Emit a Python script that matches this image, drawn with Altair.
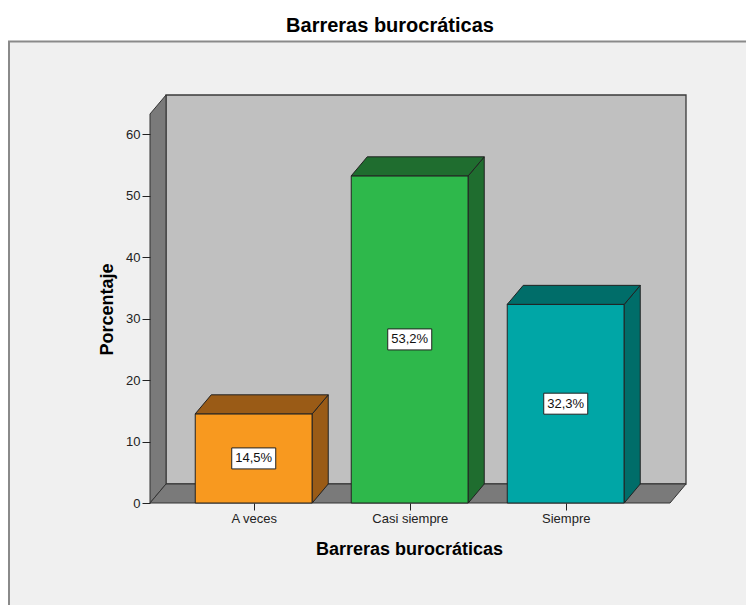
import json
import altair as alt
import pandas as pd

# ---------------- data ----------------
categories = ["A veces", "Casi siempre", "Siempre"]
values = [14.5, 53.2, 32.3]
value_labels = ["14,5%", "53,2%", "32,3%"]
front_colors = ["#F8991F", "#2EB84B", "#00A6A6"]
shade_colors = ["#9A5B16", "#1F6D2F", "#006D69"]
y_ticks = [0, 10, 20, 30, 40, 50, 60]

# ---------------- 3D geometry in data units ----------------
PX_X = 156.0          # pixels per category step
PX_Y = 6.15           # pixels per percentage point
DEPTH_X = 16 / PX_X   # depth offset of the 3D effect
DEPTH_Y = 19 / PX_Y
FIRST_CENTER = 0.665
HALF_BAR = 0.375
FLOOR_END = 520 / PX_X
X_MAX = FLOOR_END + DEPTH_X
Y_MAX = 408 / PX_Y
WALL_TOP = Y_MAX - DEPTH_Y

centers = [FIRST_CENTER + i for i in range(len(categories))]

xs = alt.Scale(domain=[0, X_MAX], nice=False, zero=False)
ys = alt.Scale(domain=[0, Y_MAX], nice=False, zero=False)

label_expr = json.dumps(categories) + "[floor(datum.value)]"
x_axis = alt.Axis(values=centers, labelExpr=label_expr, title="Barreras burocráticas",
                  grid=False, domain=False, tickSize=7, tickColor="#222", labelPadding=2,
                  labelFontSize=13, labelColor="#222", labelFont="Liberation Sans",
                  titleFontSize=18, titleFont="Liberation Sans", titleFontWeight="bold",
                  titleColor="#000", titlePadding=15, titleX=259, labelOverlap=False,
                  labelFlush=False, zindex=1)
y_axis = alt.Axis(values=y_ticks, title="Porcentaje", format="d", grid=False, domain=False,
                  tickSize=8, tickColor="#222", labelPadding=2, labelFontSize=13,
                  labelColor="#222", labelFont="Liberation Sans", titleFontSize=18,
                  titleFont="Liberation Sans", titleFontWeight="bold", titleColor="#000",
                  titlePadding=9, titleY=214, zindex=1)


def X(field):
    return alt.X(field, scale=xs, axis=x_axis, title="Barreras burocráticas")


def Y(field):
    return alt.Y(field, scale=ys, axis=y_axis, title="Porcentaje")


# outer frame (decoration)
frame_df = pd.DataFrame({"x": [-141 / PX_X], "x2": [700 / PX_X], "y": [-120 / PX_Y],
                         "y2": [461.5 / PX_Y]})
frame = alt.Chart(frame_df).mark_rect(fill="#F0F0F0", stroke="#8A8A8A", strokeWidth=2).encode(
    x=X("x:Q"), x2="x2", y=Y("y:Q"), y2="y2")

# back wall
back_df = pd.DataFrame({"x": [DEPTH_X], "x2": [X_MAX], "y": [DEPTH_Y], "y2": [Y_MAX]})
back = alt.Chart(back_df).mark_rect(fill="#C0C0C0", stroke="#3A3A3A", strokeWidth=1.3).encode(
    x=X("x:Q"), x2="x2", y=Y("y:Q"), y2="y2")

# left wall
left_df = pd.DataFrame({"x": [0, DEPTH_X], "lo": [0, DEPTH_Y], "hi": [WALL_TOP, Y_MAX]})
left = alt.Chart(left_df).mark_area(fill="#7A7A7A", stroke="#333", strokeWidth=1,
                                    orient="vertical").encode(
    x=X("x:Q"), y=alt.Y("lo:Q", scale=ys, axis=y_axis, title="Porcentaje", stack=None),
    y2="hi")

# floor
floor_df = pd.DataFrame({"y": [0, DEPTH_Y], "lo": [0, DEPTH_X], "hi": [FLOOR_END, X_MAX]})
floor = alt.Chart(floor_df).mark_area(fill="#7A7A7A", stroke="#333", strokeWidth=1,
                                      orient="horizontal").encode(
    y=Y("y:Q"),
    x=alt.X("lo:Q", scale=xs, axis=x_axis, title="Barreras burocráticas", stack=None),
    x2="hi")

# bars: front faces
front_df = pd.DataFrame({"cat": categories, "v": values,
                         "x0": [c - HALF_BAR for c in centers],
                         "x1": [c + HALF_BAR for c in centers],
                         "fill": front_colors, "zero": [0] * 3})
fronts = alt.Chart(front_df).mark_rect(stroke="#222", strokeWidth=1).encode(
    x=X("x0:Q"), x2="x1", y=Y("zero:Q"), y2="v",
    color=alt.Color("fill:N", scale=None))

# side and top faces
side_rows, top_rows = [], []
for cat, c, v, col in zip(categories, centers, values, shade_colors):
    side_rows.append({"cat": cat, "x": c + HALF_BAR, "lo": 0, "hi": v, "fill": col})
    side_rows.append({"cat": cat, "x": c + HALF_BAR + DEPTH_X, "lo": DEPTH_Y,
                      "hi": v + DEPTH_Y, "fill": col})
    top_rows.append({"cat": cat, "y": v, "lo": c - HALF_BAR, "hi": c + HALF_BAR, "fill": col})
    top_rows.append({"cat": cat, "y": v + DEPTH_Y, "lo": c - HALF_BAR + DEPTH_X,
                     "hi": c + HALF_BAR + DEPTH_X, "fill": col})
sides = alt.Chart(pd.DataFrame(side_rows)).mark_area(stroke="#222", strokeWidth=1,
                                                     orient="vertical").encode(
    x=X("x:Q"),
    y=alt.Y("lo:Q", scale=ys, axis=y_axis, title="Porcentaje", stack=None), y2="hi",
    color=alt.Color("fill:N", scale=None), detail="cat:N")
tops = alt.Chart(pd.DataFrame(top_rows)).mark_area(stroke="#222", strokeWidth=1,
                                                   orient="horizontal").encode(
    y=Y("y:Q"),
    x=alt.X("lo:Q", scale=xs, axis=x_axis, title="Barreras burocráticas", stack=None),
    x2="hi",
    color=alt.Color("fill:N", scale=None), detail="cat:N")

# value labels
lab_df = pd.DataFrame({"cx": centers, "mid": [v / 2 for v in values], "txt": value_labels})
boxes = alt.Chart(lab_df).mark_rect(fill="white", stroke="#222", strokeWidth=1,
                                    xOffset=-22, x2Offset=22, yOffset=-10.5,
                                    y2Offset=10.5).encode(
    x=X("cx:Q"), x2="cx", y=Y("mid:Q"), y2="mid")
texts = alt.Chart(lab_df).mark_text(fontSize=13, font="Liberation Sans", color="#111").encode(
    x=X("cx:Q"), y=Y("mid:Q"), text="txt:N")

chart = alt.layer(frame, back, left, floor, fronts, sides, tops, boxes, texts).properties(
    width=536, height=408,
    autosize=alt.AutoSizeParams(type="none"),
    padding={"left": 142, "top": 87, "right": 60, "bottom": 102},
    background="white",
    title=alt.TitleParams("Barreras burocráticas", fontSize=20, fontWeight="bold",
                          font="Liberation Sans", color="#000", anchor="middle",
                          frame="group", dx=-28, offset=5),
).configure_view(stroke=None)

chart.save("out.html", embed_options={"renderer": "svg", "actions": False})
